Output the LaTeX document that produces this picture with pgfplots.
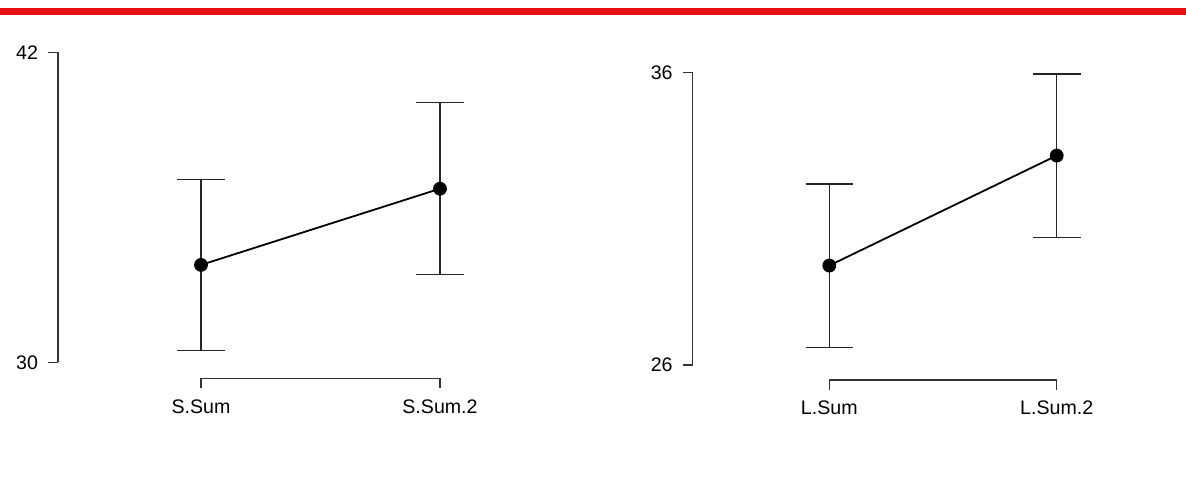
\documentclass[border=0pt]{standalone}
\usepackage{fontspec}
\setmainfont{Liberation Sans}
\usepackage{pgfplots}
\pgfplotsset{compat=1.18}
\definecolor{topred}{RGB}{230,16,22}

\pgfplotsset{
  rplot/.style={
    scale only axis, clip=false,
    axis lines=left, axis line style={-, line width=0.6pt, black!80},
    separate axis lines,
    tick align=outside, major tick length=5pt,
    tick style={line width=0.6pt, black!80},
    xtick={1,2}, xmin=1, xmax=2,
    /pgf/number format/assume math mode=true,
    tick label style={font=\fontsize{9.8}{11}\selectfont},
    yticklabel style={xshift=-1.5pt},
    xticklabel style={yshift=-2pt},
  },
  meanline/.style={
    black, line width=0.9pt, mark=*, mark size=3pt,
    mark options={fill=black, solid},
    error bars/.cd, y dir=both, y explicit,
    error bar style={line width=0.65pt, black!85},
    error mark options={rotate=90, mark size=11.9pt, line width=0.65pt, black!85},
  },
}

\begin{document}
\begin{tikzpicture}
\useasboundingbox (0,0) rectangle (593pt,-251pt);
\fill[topred] (0,-4.15pt) rectangle (593pt,-7.5pt);

% left panel
\begin{axis}[rplot,
  at={(100.5pt,-181.15pt)}, anchor=south west,
  width=119.5pt, height=155pt,
  ymin=30, ymax=42, ytick={30,42},
  xticklabels={S.Sum,S.Sum.2},
  axis y line shift=71.5pt, axis x line shift=8pt,
]
\addplot[meanline] coordinates {
  (1,33.77) +- (0,3.31)
  (2,36.72) +- (0,3.33)
};
\end{axis}

% right panel
\begin{axis}[rplot,
  at={(414.65pt,-182.5pt)}, anchor=south west,
  width=113.7pt, height=146.25pt,
  ymin=26, ymax=36, ytick={26,36},
  xticklabels={L.Sum,L.Sum.2},
  axis y line shift=68.3pt, axis x line shift=7.5pt,
]
\addplot[meanline] coordinates {
  (1,29.40) +- (0,2.79)
  (2,33.16) +- (0,2.79)
};
\end{axis}
\end{tikzpicture}
\end{document}
